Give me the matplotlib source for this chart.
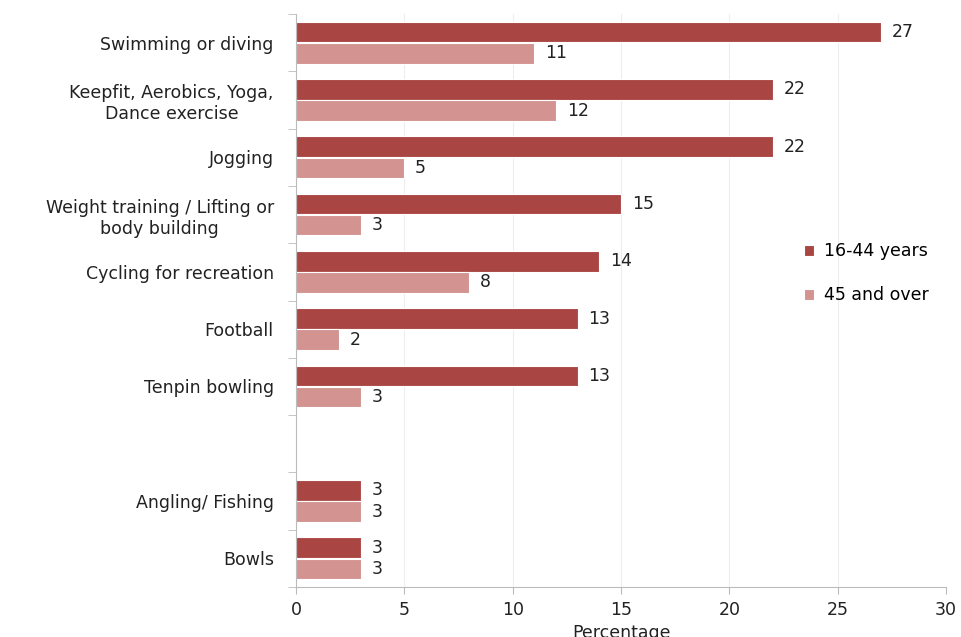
import numpy as np
import matplotlib.pyplot as plt

categories = ["Swimming or diving", "Keepfit, Aerobics, Yoga,\nDance exercise", "Jogging",
              "Weight training / Lifting or\nbody building", "Cycling for recreation",
              "Football", "Tenpin bowling", "", "Angling/ Fishing", "Bowls"]
young = [27, 22, 22, 15, 14, 13, 13, None, 3, 3]
older = [11, 12, 5, 3, 8, 2, 3, None, 3, 3]
series_names = ["16-44 years", "45 and over"]
colors = ["#A94644", "#D29391"]

plt.rcParams['font.family'] = ['DejaVu Sans']
fig = plt.figure(figsize=(9.62, 6.37), dpi=100)
ax = fig.add_axes([0.3077, 0.0785, 0.6757, 0.8995])

pos = np.arange(len(categories))
h = 0.36
fs = 12.5
for vals, off, col, name in [(young, -0.185, colors[0], series_names[0]),
                              (older, 0.185, colors[1], series_names[1])]:
    idx = [i for i, v in enumerate(vals) if v is not None]
    v = [vals[i] for i in idx]
    ax.barh(pos[idx] + off, v, height=h, color=col, edgecolor="white", linewidth=0.8, label=name)
    for i, val in zip(idx, v):
        ax.text(val + 0.5, pos[i] + off, str(val), va="center", ha="left", fontsize=fs, color="#222222")

ax.set_xlim(0, 30)
ax.set_ylim(len(categories) - 0.5, -0.5)
ax.set_xticks(range(0, 31, 5))
ax.xaxis.grid(True, color="#EDEDED", linewidth=0.8)
ax.set_axisbelow(True)

ax.set_yticks(pos)
ax.set_yticklabels(categories, fontsize=fs, color="#222222", ha="right",
                   multialignment="center", linespacing=1.25)
ax.tick_params(axis="y", length=0, pad=16)
ax.set_yticks(np.arange(-0.5, len(categories)), minor=True)
ax.tick_params(axis="y", which="minor", length=6, color="#BBBBBB", left=True)
ax.tick_params(axis="x", length=5, color="#BBBBBB", labelsize=fs, labelcolor="#222222", pad=5)

for s in ["top", "right"]:
    ax.spines[s].set_visible(False)
ax.spines["left"].set_color("#BBBBBB")
ax.spines["bottom"].set_color("#BBBBBB")

ax.set_xlabel("Percentage", fontsize=fs, color="#222222", labelpad=4)

fig.legend(loc="center left", bbox_to_anchor=(0.819, 0.571), frameon=False, fontsize=fs,
           handlelength=0.6, handleheight=0.6, handletextpad=0.6, labelspacing=1.5)

fig.savefig("out.png", dpi=100)
